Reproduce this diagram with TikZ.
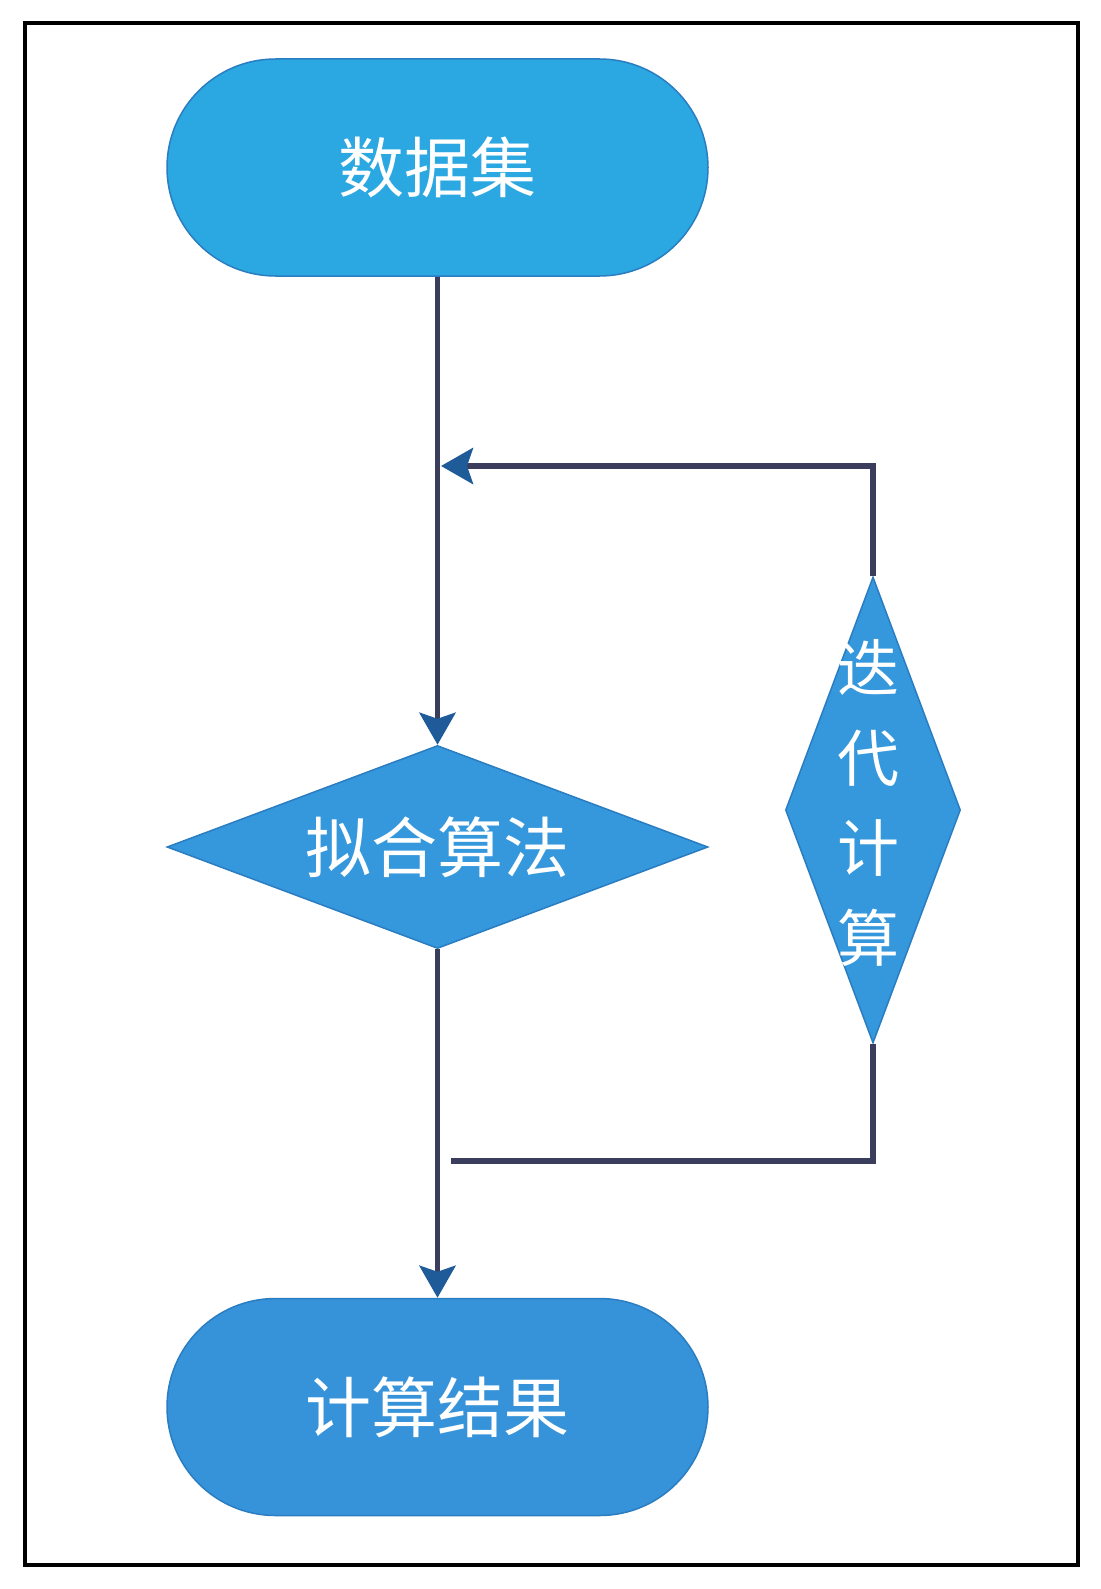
\documentclass[tikz,border=0pt]{standalone}
\usepackage{fontspec}
\newfontfamily\cjk{Noto Sans CJK SC}
\usetikzlibrary{shapes.geometric,shapes.misc,arrows.meta}
\definecolor{topblue}{HTML}{2BA8E1}
\definecolor{midblue}{HTML}{3597DC}
\definecolor{botblue}{HTML}{3693DA}
\definecolor{edgeblue}{HTML}{2A7DC0}
\definecolor{linecol}{HTML}{3A3D5C}
\definecolor{tipcol}{HTML}{1F5B99}
\tikzset{
  term/.style={rounded rectangle, draw=edgeblue, line width=1.5pt, minimum width=541pt, minimum height=217pt, inner sep=0pt, text=white, font=\cjk\fontsize{66}{70}\selectfont},
  dia/.style={diamond, draw=edgeblue, line width=1.5pt, fill=midblue, inner sep=0pt},
  dialabel/.style={text=white, font=\cjk\fontsize{66}{70}\selectfont, inner sep=0pt},
  vlabel/.style={text=white, font=\cjk\fontsize{62}{90}\selectfont, inner sep=0pt, align=center},
  conn/.style={draw=linecol, line width=5.5pt},
  tip/.style={-{Stealth[length=32pt,width=36pt,inset=6pt,color=tipcol]}}
}
\begin{document}
\begin{tikzpicture}[x=1pt,y=-1pt]
\useasboundingbox (0,0) rectangle (1100,1589);
\fill[white] (0,0) rectangle (1100,1589);
\draw[black, line width=3.5pt] (25,23) rectangle (1078,1565);
\node[term, fill=topblue] (ds) at (437.5,167.5) {数据集};
\node[dia, minimum width=541pt, minimum height=203pt, label={[dialabel]center:拟合算法}] (fit) at (437.5,847) {};
\node[dia, minimum width=175pt, minimum height=466pt] (it) at (873,810) {};
\node[vlabel] (itl) at (868,803) {迭\\代\\计\\算};
\node[term, fill=botblue] (res) at (437.5,1407) {计算结果};
\coordinate (j1) at (441,466);
\coordinate (j2) at (451,1161);
\draw[conn, tip] (ds.south) -- (fit.north);
\draw[conn, tip] (fit.south) -- (res.north);
\draw[conn, tip] (it.north) |- (j1);
\draw[conn] (it.south) |- (j2);
\end{tikzpicture}
\end{document}
